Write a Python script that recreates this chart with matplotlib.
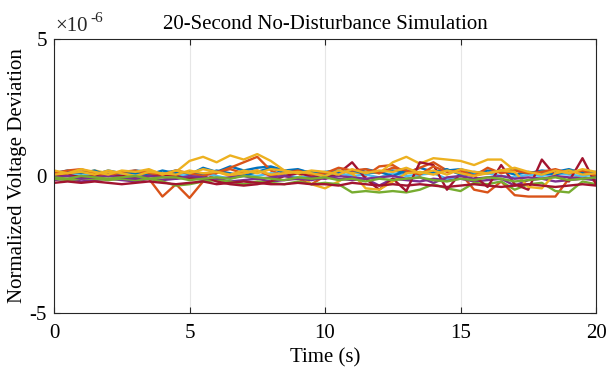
import numpy as np
import matplotlib
matplotlib.use("Agg")
import matplotlib.pyplot as plt
from matplotlib.ticker import FuncFormatter

plt.rcParams['font.family'] = ['Liberation Serif', 'DejaVu Serif']
plt.rcParams['axes.unicode_minus'] = False

time_s = np.arange(0, 20.01, 0.5)

# values in units of 1e-6
blue = [0.1,0.2,0.15,0.05,0.2,0.1,0.2,0.15,0.1,0.2,0.05,0.3,0.15,0.35,0.2,0.3,0.35,0.2,0.25,0.1,0.15,0.2,0.1,0.25,0.15,0.2,0.1,0.3,0.15,0.2,0.25,0.1,0.2,0.15,0.25,0.1,0.2,0.15,0.25,0.1,0.15]
orange = [0.0,0.1,-0.05,0.15,0.0,0.1,0.05,-0.1,-0.75,-0.3,-0.8,-0.2,0.1,0.3,0.5,0.7,0.2,0.0,-0.1,-0.3,0.0,0.1,0.2,0.0,0.35,0.4,0.1,0.3,0.5,0.2,0.1,-0.5,-0.6,-0.2,-0.7,-0.75,-0.75,-0.75,-0.1,0.0,-0.2]
yellow = [0.1,0.15,0.1,0.2,0.1,0.15,0.1,0.2,0.1,0.15,0.55,0.7,0.5,0.75,0.6,0.8,0.55,0.2,0.1,-0.3,-0.45,-0.2,0.1,0.15,0.1,0.5,0.7,0.45,0.65,0.6,0.55,0.4,0.6,0.6,0.2,0.1,0.15,0.1,0.2,0.15,0.1]
purple = [-0.15,-0.1,-0.2,-0.15,-0.1,-0.15,-0.2,-0.1,-0.15,-0.1,-0.05,-0.15,-0.1,-0.2,-0.15,-0.1,-0.2,-0.15,-0.1,-0.15,-0.05,-0.1,-0.15,-0.1,-0.35,-0.1,-0.15,-0.2,-0.1,-0.15,-0.1,-0.2,-0.15,-0.1,-0.35,-0.15,-0.1,-0.2,-0.15,-0.1,-0.15]
green = [-0.1,-0.15,-0.1,-0.1,-0.15,-0.1,-0.15,-0.1,-0.2,-0.35,-0.3,-0.2,-0.15,-0.2,-0.3,-0.2,-0.25,-0.3,-0.2,-0.3,-0.25,-0.3,-0.6,-0.55,-0.6,-0.55,-0.6,-0.5,-0.3,-0.45,-0.55,-0.25,-0.3,-0.2,-0.5,-0.3,-0.25,-0.55,-0.6,-0.2,-0.3]
lightblue = [0.0,0.05,0.1,0.0,0.05,0.1,0.05,0.0,0.1,0.05,0.0,0.1,0.0,-0.1,0.05,0.0,0.1,0.05,-0.05,0.0,0.05,0.1,0.0,0.05,-0.05,0.1,0.0,0.05,0.1,-0.1,0.0,0.05,0.1,0.0,-0.05,0.05,0.0,0.1,0.05,0.0,0.05]
darkred = [0.0,0.05,-0.05,0.0,0.05,0.0,-0.05,0.0,0.05,0.0,-0.1,0.0,-0.2,-0.3,-0.35,-0.3,-0.2,0.0,0.1,0.0,-0.1,0.1,0.5,-0.1,-0.5,-0.1,-0.55,0.5,0.4,-0.5,0.1,0.0,-0.4,0.4,-0.3,-0.5,0.6,0.0,-0.2,0.65,-0.3]
blue2 = [0.05,0.15,0.1,0.2,0.0,0.15,0.1,0.05,0.2,0.1,0.15,0.05,0.2,0.1,0.0,0.15,0.3,0.1,0.2,0.15,0.05,0.1,0.2,0.1,0.15,0.0,0.2,0.1,0.15,0.25,0.05,0.15,0.1,0.2,0.05,0.15,0.1,0.05,0.2,0.15,0.1]
orange2 = [0.1,0.2,0.25,0.1,0.0,0.15,0.2,0.1,0.05,0.2,0.1,0.0,0.15,0.25,0.1,0.2,0.0,0.1,0.2,0.05,0.1,0.3,0.2,0.25,0.1,0.3,0.2,0.05,0.35,0.15,0.2,0.0,0.3,0.1,0.2,0.1,0.15,0.25,0.1,0.2,0.0]
yellow2 = [0.05,0.1,0.15,0.05,0.2,0.1,0.0,0.15,0.1,0.05,0.2,0.1,0.15,0.0,0.1,0.2,0.05,0.1,0.15,0.1,0.0,0.2,0.1,-0.45,-0.5,-0.2,0.1,0.15,0.05,0.2,0.1,0.0,0.1,0.2,0.15,-0.4,-0.45,0.1,0.2,0.05,0.1]
purple2 = [-0.05,0.0,-0.1,-0.05,0.0,-0.05,-0.1,0.0,-0.05,-0.1,0.0,-0.05,-0.1,-0.05,0.0,-0.1,-0.05,0.0,-0.1,-0.05,-0.1,0.0,-0.05,-0.1,-0.05,0.0,-0.1,-0.05,-0.25,-0.05,0.0,-0.1,-0.05,0.0,-0.1,-0.05,-0.1,0.0,-0.05,-0.1,-0.05]
darkred2 = [-0.25,-0.2,-0.25,-0.2,-0.25,-0.3,-0.25,-0.2,-0.25,-0.3,-0.25,-0.2,-0.3,-0.25,-0.2,-0.25,-0.3,-0.3,-0.25,-0.3,-0.3,-0.35,-0.25,-0.3,-0.35,-0.3,-0.35,-0.3,-0.35,-0.4,-0.35,-0.3,-0.35,-0.4,-0.35,-0.3,-0.35,-0.4,-0.35,-0.3,-0.35]
yellow3 = [0.2,0.1,0.25,0.15,0.05,0.2,0.15,0.25,0.05,0.2,0.1,0.25,0.15,0.05,0.2,0.1,0.25,0.2,0.1,0.2,0.15,0.05,0.25,0.1,0.2,0.15,0.3,0.1,0.2,0.05,0.25,0.15,0.1,0.2,0.3,0.15,0.05,0.2,0.1,0.25,0.15]
green2 = [-0.05,-0.1,0.0,-0.05,-0.1,-0.05,0.0,-0.1,-0.05,-0.05,-0.15,-0.1,-0.05,-0.1,0.0,-0.05,-0.1,-0.15,-0.05,-0.1,-0.05,-0.15,-0.1,-0.2,-0.1,-0.15,-0.1,-0.05,-0.15,-0.2,-0.1,-0.15,-0.05,-0.1,-0.2,-0.15,-0.1,-0.05,-0.15,-0.1,-0.05]

series = [blue, orange, yellow, purple, green, lightblue, darkred,
          blue2, orange2, yellow2, purple2, darkred2, yellow3, green2]
colors = ['#0072BD', '#D95319', '#EDB120', '#7E2F8E', '#77AC30', '#4DBEEE', '#A2142F',
          '#0072BD', '#D95319', '#EDB120', '#7E2F8E', '#A2142F', '#EDB120', '#77AC30']
scale = 1e-6

fig = plt.figure(figsize=(6.09, 3.69), dpi=100)
ax = fig.add_axes([0.0887, 0.1518, 0.89, 0.7425])

for vals, c in zip(series, colors):
    ax.plot(time_s, np.array(vals) * scale, color=c, linewidth=1.7)

ax.set_xlim(0, 20)
ax.set_ylim(-5e-6, 5e-6)
ax.set_xticks([0, 5, 10, 15, 20])
ax.set_yticks([-5e-6, 0, 5e-6])
ax.yaxis.set_major_formatter(FuncFormatter(lambda v, p: '%d' % round(v / scale)))
ax.tick_params(direction='in', labelsize=15, length=4, color='#262626',
               top=True, right=True)
ax.tick_params(axis='x', pad=8)
ax.tick_params(axis='y', pad=5)
ax.xaxis.grid(True, color='#e6e6e6', linewidth=0.8)
ax.set_axisbelow(True)
for s in ax.spines.values():
    s.set_color('#262626')
    s.set_linewidth(0.8)

# exponent label (MATLAB style)
ax.text(0.002, 1.012, '×10', transform=ax.transAxes, fontsize=15,
        ha='left', va='bottom', color='#262626')
ax.text(0.067, 1.05, '-6', transform=ax.transAxes, fontsize=11,
        ha='left', va='bottom', color='#262626')

ax.set_title('20-Second No-Disturbance Simulation', fontsize=15, pad=7)
ax.set_xlabel('Time (s)', fontsize=15, labelpad=4)
ax.set_ylabel('Normalized Voltage Deviation', fontsize=15, labelpad=2)

fig.savefig('out.png', dpi=100)
